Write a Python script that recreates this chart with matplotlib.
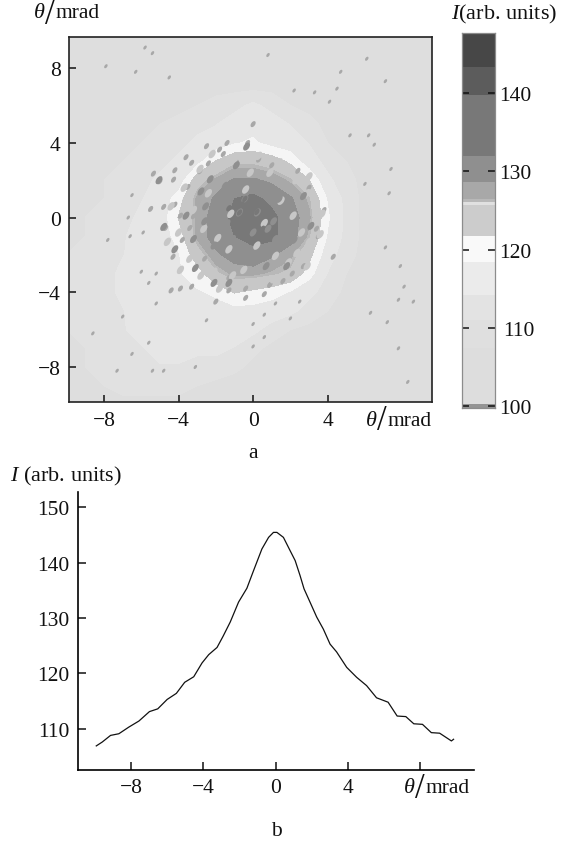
import numpy as np
import matplotlib
matplotlib.use('Agg')
import matplotlib.pyplot as plt
from matplotlib.colors import ListedColormap, BoundaryNorm
from matplotlib.path import Path
from matplotlib.transforms import Affine2D

plt.rcParams['font.family'] = ['Liberation Serif', 'DejaVu Serif']
plt.rcParams['mathtext.fontset'] = 'custom'
plt.rcParams['mathtext.it'] = 'Liberation Serif:italic'
plt.rcParams['mathtext.rm'] = 'Liberation Serif'

W, H = 561, 845

# intensity bands of the colour bar
band_levels = [99.7, 100.2, 107.4, 111.0, 114.2, 118.4, 121.8, 125.7, 126.1, 126.5, 128.6, 132.0, 139.8, 143.3, 147.7]
band_grays = [0.58, 0.865, 0.875, 0.89, 0.92, 0.975, 0.80, 0.88, 0.72, 0.66, 0.56, 0.47, 0.36, 0.28]
# same bands on the map, where the halo is fainter and the thin light lines do not show
map_grays = [0.58, 0.865, 0.872, 0.882, 0.90, 0.96, 0.78, 0.72, 0.72, 0.66, 0.56, 0.47, 0.36, 0.28]

# coarse intensity map, rows from theta_y = 10 to -10, columns from theta_x = -10 to 10
map_theta = list(range(-10, 11))
map_rows = [
    [108, 108, 108, 108, 108, 108, 108, 108, 108, 108, 108, 108, 108, 108, 108, 108, 108, 108, 108, 108, 108],
    [108, 108, 108, 108, 108, 108, 108, 108, 108, 108, 108, 108, 108, 108, 108, 108, 108, 108, 108, 108, 108],
    [109, 109, 109, 109, 109, 108, 108, 108, 108, 108, 108, 108, 108, 108, 108, 108, 108, 108, 108, 108, 108],
    [109, 109, 109, 109, 109, 109, 109, 110, 110, 110, 110, 110, 109, 109, 108, 108, 108, 108, 108, 108, 108],
    [109, 109, 109, 110, 110, 110, 110, 111, 112, 113, 115, 113, 111, 110, 109, 109, 108, 108, 108, 108, 108],
    [109, 109, 110, 110, 110, 111, 112, 113, 114, 116, 117, 116, 114, 112, 110, 109, 109, 108, 108, 108, 108],
    [109, 110, 110, 111, 111, 112, 113, 115, 116, 118, 119, 117, 116, 114, 111, 110, 109, 109, 108, 108, 108],
    [110, 110, 111, 111, 112, 113, 115, 117, 122, 125, 125, 124, 121, 116, 113, 111, 110, 109, 109, 108, 108],
    [110, 110, 111, 112, 113, 115, 116, 124, 127, 129, 129, 128, 126, 122, 115, 112, 110, 109, 109, 109, 108],
    [110, 111, 111, 113, 114, 116, 120, 127, 129, 132, 133, 131, 129, 126, 118, 113, 110, 109, 109, 109, 109],
    [110, 111, 112, 113, 115, 116, 122, 127, 130, 133, 134, 133, 130, 127, 119, 113, 110, 109, 109, 109, 109],
    [111, 111, 112, 114, 115, 116, 120, 127, 130, 132, 133, 133, 130, 126, 118, 113, 110, 109, 109, 109, 109],
    [111, 112, 113, 114, 116, 117, 118, 124, 128, 130, 131, 129, 127, 123, 116, 112, 110, 109, 109, 109, 109],
    [111, 112, 113, 115, 116, 117, 118, 120, 125, 127, 127, 126, 125, 120, 114, 111, 110, 109, 109, 109, 109],
    [111, 112, 113, 115, 116, 117, 117, 118, 119, 122, 121, 120, 118, 115, 113, 110, 109, 109, 109, 109, 109],
    [111, 112, 113, 114, 116, 117, 117, 117, 117, 117, 117, 116, 115, 113, 111, 110, 109, 109, 109, 109, 109],
    [111, 112, 113, 114, 115, 116, 116, 117, 117, 116, 115, 113, 111, 110, 109, 109, 109, 109, 109, 109, 109],
    [111, 111, 112, 113, 114, 115, 115, 115, 115, 114, 112, 110, 109, 109, 109, 109, 109, 109, 109, 109, 109],
    [110, 111, 112, 113, 113, 114, 114, 113, 113, 112, 110, 109, 109, 109, 108, 108, 108, 108, 108, 108, 108],
    [110, 110, 111, 112, 112, 112, 112, 111, 110, 109, 109, 109, 108, 108, 108, 108, 108, 108, 108, 108, 108],
    [110, 110, 110, 110, 110, 110, 110, 110, 109, 109, 108, 108, 108, 108, 108, 108, 108, 108, 108, 108, 108],
]

# flecks, by tone: far from the spot, around it, then light and dark grains inside it
far_x = [-4.5, -6.3, -7.9, -5.4, -5.8, 0.8, 6.1, 4.7, 7.1, 4.5, 3.3, 2.2, 4.1, 6.2, 6.5, 5.2, 7.4, 7.3,
         6.0, 7.1, 7.9, 8.1, 8.6, 7.8, 7.2, 6.3, 7.8, 8.3, 2.5, 2.0, 0.0, 0.6, 0.0, 0.6, 1.2, -2.5,
         -3.1, -4.8, -5.4, -7.3, -6.5, -7.0, -8.6, -5.6, -5.2, -5.2, -5.6, -6.0, -6.5, -6.7, -7.8, -6.6, -5.9]
far_y = [7.5, 7.8, 8.1, 8.8, 9.1, 8.7, 8.5, 7.8, 7.3, 6.9, 6.7, 6.8, 6.2, 4.4, 3.9, 4.4, 2.6, 1.3,
         1.8, -1.6, -2.6, -3.7, -4.5, -4.4, -5.6, -5.1, -7.0, -8.8, -4.5, -5.4, -6.9, -6.4, -5.7, -5.2, -4.6, -5.5,
         -8.0, -8.2, -8.2, -8.2, -7.3, -5.3, -6.2, -6.7, -4.6, -3.0, -3.5, -2.9, 1.2, 0.0, -1.2, -1.0, -0.8]
fleck_x = [-5.35, -5.5, -4.8, -3.8, -3.9, -1.3, 0.9, 3.8, 4.3, -4.4, -2.0, 1.0, 0.0,
           -2.6, -1.3, -0.4, 0.9, 1.6, 2.1, 2.7, 3.4, 3.0, 2.4, 0.3, -1.6, -2.4, -3.3, -4.3, -0.4, 0.6,
           3.5, -0.3, -0.9, -1.4, -1.8, -2.5, -3.3, -3.6, -4.2, -4.27, -5.0, -3.5, -4.2, -3.9, -3.2, -3.4, -4.7, -2.85]
fleck_y = [2.35, 0.46, 0.57, -1.2, -3.8, -3.9, -3.6, 0.4, -2.1, -3.9, -4.5, 2.8, 5.0,
           -2.2, -3.2, -3.8, -3.6, -3.4, -3.0, -2.6, -0.6, 1.6, 2.5, 3.1, 3.4, 2.9, -3.7, -2.1, -4.3, -4.1,
           -1.0, 3.99, 2.93, 3.99, 3.64, 3.82, 2.93, 3.23, 2.53, 2.03, 1.94, 1.64, 0.69, 0.1, 0.07, -0.56, -0.56, 2.48]
fleck_value = 127.5

light_x = [-3.4, -2.1, -0.5, 1.2, 2.35, 2.9, -4.0, -3.6, -2.85, -1.7, -0.15, 1.4, -1.3, -2.65, 0.2, 2.15,
           -2.8, -3.1, -1.0, 0.9, 1.9, 3.0, 3.3, 3.0, -4.4, -4.6, -3.7, -1.8, -2.4, -1.2, 0.6, 1.5, -0.4, -3.2,
           -1.9, 2.6, 1.1, 0.1, -1.1, 2.3, 0.3, -2.2, -3.9, 2.9, 3.6, 3.7]
light_y = [-2.2, -2.9, -2.8, -2.05, -1.9, 1.3, -0.8, 1.0, 2.6, 2.8, 2.4, 2.95, -1.7, -0.6, -1.5, 0.1,
           -3.1, -1.8, 3.1, 2.4, -2.4, -1.3, 0.8, 2.2, 0.6, -1.3, 1.6, -3.8, 1.3, 0.2, -0.3, 0.9, 1.5, 0.4,
           -1.1, -0.8, -3.3, -3.5, -3.1, 2.0, 3.3, 3.4, -2.8, -2.6, -0.9, 0.2]
light_value = 123.5

dark_x = [-0.73, -0.44, 0.8, -1.9, -2.55, -4.2, -4.8, -5.05, -3.1, -0.45, 0.7, -1.3, -2.1, -3.6, -2.3, -1.5,
          0.4, 1.4, 1.8, 0.23, -1.1, -2.1, -3.2, 0.0, 1.2, 2.7, 3.1, 1.8, -0.9, -0.35,
          -1.6, -0.9, 0.1, 1.0, 1.7, 1.1, -1.4, -2.6, -2.8, -0.2, 0.7, 2.2]
dark_y = [0.27, 1.0, -0.6, -0.45, 0.6, -1.7, -0.5, 2.0, -2.7, -2.1, -2.6, -3.5, -3.5, 0.1, 2.05, 1.7,
          1.5, 1.0, -0.3, 0.27, -1.15, -1.5, -1.15, -0.8, -1.15, 1.15, -0.45, -2.6, 2.8, 3.8,
          0.9, 1.6, 1.9, 1.3, 0.4, -0.2, -0.3, -0.2, 1.4, -1.7, -1.7, -1.2]
dark_value = 130.0

darkest_x = [-0.73, -0.44, 0.2, -0.9, 0.5, -0.3, 0.8, -0.6, 0.0, -1.3]
darkest_y = [0.27, 1.0, 0.3, -0.2, -0.6, -1.1, 0.5, 0.7, -0.2, 0.5]
darkest_value = 136.0

# profile through the spot
profile_theta = [-9.93, -9.6, -9.14, -8.68, -8.13, -7.57, -6.99, -6.53, -6.01, -5.5, -5.04, -4.54, -4.08, -3.71,
                 -3.25, -2.92, -2.52, -2.06, -1.6, -1.23, -0.77, -0.4, -0.13, 0.06, 0.42, 0.79, 1.07, 1.34, 1.56,
                 1.89, 2.26, 2.63, 3.0, 3.36, 3.92, 4.47, 5.02, 5.57, 6.21, 6.71, 7.19, 7.63, 8.11, 8.6, 9.06,
                 9.71, 9.83]
profile_i = [106.9, 107.6, 108.8, 109.1, 110.3, 111.4, 113.1, 113.6, 115.3, 116.4, 118.4, 119.4, 121.9, 123.4,
             124.7, 126.7, 129.3, 132.9, 135.4, 138.6, 142.5, 144.6, 145.5, 145.5, 144.6, 142.2, 140.4, 137.7, 135.3,
             132.9, 130.2, 128.0, 125.3, 123.9, 121.1, 119.3, 117.8, 115.6, 114.8, 112.3, 112.2, 110.9, 110.8, 109.3, 109.2,
             107.8, 108.1]

map_ticks = [-8, -4, 0, 4]
map_yticks = [-8, -4, 0, 4, 8]
bar_ticks = [100, 110, 120, 130, 140]
profile_xticks = [-8, -4, 0, 4, 8]
profile_yticks = [110, 120, 130, 140, 150]

FONT = 15.5


def axes_px(fig, left, top, right, bottom):
    return fig.add_axes([left / W, 1 - bottom / H, (right - left) / W, (bottom - top) / H])


def put_text(fig, x, y, s, size=FONT, ha='left'):
    fig.text(x / W, 1 - y / H, s, fontsize=size, ha=ha, va='center', color='#111111')


def theta_label(fig, left, y):
    """ theta / mrad with the tall slash of the original. """
    put_text(fig, left, y, r'$\theta$', size=16)
    put_text(fig, left + 12, y + 1, '/', size=25)
    put_text(fig, left + 23, y, 'mrad')


def minus(ticks):
    return [str(t).replace('-', '\u2212') for t in ticks]


def draw_map(fig, norm):
    ax = axes_px(fig, 69, 37.7, 432, 403.3)
    cmap = ListedColormap([str(g) for g in map_grays])
    ax.contourf(map_theta, map_theta[::-1], np.array(map_rows, dtype=float), levels=band_levels,
                cmap=cmap, norm=norm)
    fleck = Path.unit_circle().transformed(Affine2D().scale(1.0, 0.6).rotate_deg(55))
    for xs, ys, value, size in [(far_x, far_y, fleck_value, 9),
                                (fleck_x, fleck_y, fleck_value, 20),
                                (light_x, light_y, light_value, 40),
                                (dark_x, dark_y, dark_value, 36),
                                (darkest_x, darkest_y, darkest_value, 22)]:
        ax.scatter(xs, ys, c=[value] * len(xs), cmap=cmap, norm=norm, s=size, marker=fleck, linewidths=0, zorder=3)
    ax.set_xlim(-9.88, 9.6)
    ax.set_ylim(-9.89, 9.68)
    ax.set_xticks(map_ticks)
    ax.set_xticklabels(minus(map_ticks))
    ax.set_yticks(map_yticks)
    ax.set_yticklabels(minus(map_yticks))
    ax.tick_params(direction='in', length=5, width=1.1, labelsize=FONT, pad=6, color='#111111', labelcolor='#111111')
    for spine in ax.spines.values():
        spine.set_linewidth(1.2)
        spine.set_color('#222222')


def draw_bar(fig, norm):
    ax = axes_px(fig, 462, 34, 495, 409.3)
    cmap = ListedColormap([str(g) for g in band_grays])
    edges = np.array(band_levels)
    ax.pcolormesh([0, 1], edges, (edges[:-1] + edges[1:])[:, None] / 2, cmap=cmap, norm=norm)
    ax.set_xlim(0, 1)
    ax.set_ylim(99.7, 147.7)
    ax.set_xticks([])
    ax.set_yticks(bar_ticks)
    ax.set_yticklabels(bar_ticks)
    ax.tick_params(axis='y', direction='in', length=5, width=1.1, left=True, right=True, labelleft=False,
                   labelright=True, labelsize=FONT, pad=3, color='#111111', labelcolor='#111111')
    ax.get_yticklabels()[1].set_x(1.13)
    for spine in ax.spines.values():
        spine.set_linewidth(0.9)
        spine.set_color('#8c8c8c')


def draw_profile(fig):
    ax = axes_px(fig, 78, 493, 474, 770.7)
    ax.plot(profile_theta, profile_i, color='#111111', lw=0.9)
    ax.set_xlim(-10.94, 10.96)
    ax.set_ylim(102.6, 152.8)
    ax.set_xticks(profile_xticks)
    ax.set_xticklabels(minus([-8, -4, 0, 4]) + [''])
    ax.set_yticks(profile_yticks)
    ax.tick_params(direction='in', length=6, width=1.1, labelsize=FONT, pad=6, color='#111111', labelcolor='#111111')
    ax.spines['top'].set_visible(False)
    ax.spines['right'].set_visible(False)
    ax.spines['left'].set_linewidth(1.2)
    ax.spines['bottom'].set_linewidth(1.2)


def main():
    fig = plt.figure(figsize=(W / 100, H / 100), dpi=100)
    norm = BoundaryNorm(band_levels, len(band_grays))

    draw_map(fig, norm)
    draw_bar(fig, norm)
    draw_profile(fig)

    theta_label(fig, 33, 14)
    theta_label(fig, 365, 421)
    theta_label(fig, 403, 789)
    put_text(fig, 451, 14, r'$I$' + '(arb. units)', size=16)
    put_text(fig, 10, 476, r'$I$' + ' (arb. units)', size=16)
    put_text(fig, 253, 453, 'a', ha='center')
    put_text(fig, 276, 832, 'b', ha='center')

    fig.savefig('out.png', dpi=100)


if __name__ == "__main__":
    main()
